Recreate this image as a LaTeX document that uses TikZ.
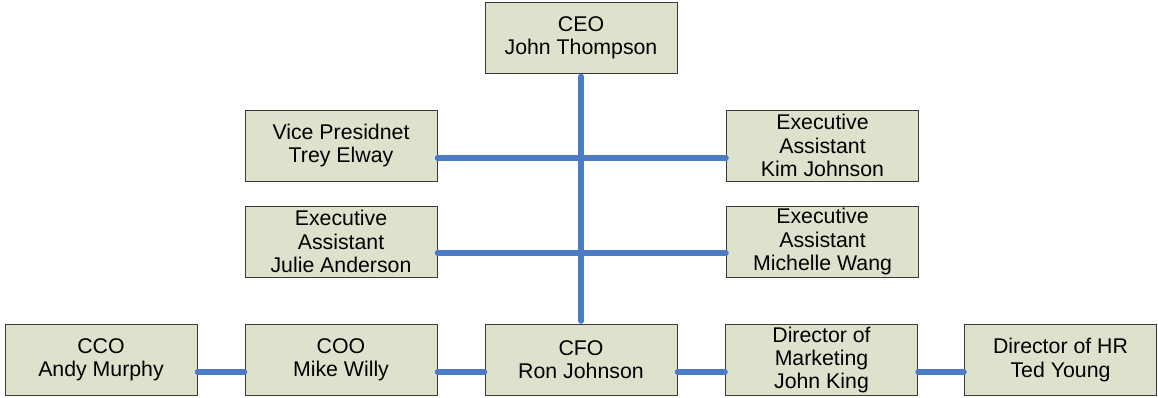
\documentclass[tikz,border=0pt]{standalone}
\usepackage{fontspec}
\setmainfont{Liberation Sans}
\definecolor{boxfill}{HTML}{DDE2CD}
\definecolor{boxline}{HTML}{3A3A3A}
\definecolor{conn}{HTML}{4C7BC6}
\begin{document}
\begin{tikzpicture}[x=1pt,y=-1pt,
  person/.style={draw=boxline, fill=boxfill, line width=1pt, minimum width=192pt, minimum height=71pt, inner sep=0pt, align=center, font=\fontsize{21.3}{23.2}\selectfont},
  link/.style={draw=conn, line width=5.5pt, line cap=round}]
\useasboundingbox (0,0) rectangle (1158,397);
\node[person] (ceo) at (581,37.5) {CEO\\John Thompson};
\node[person] (vp) at (341,145.5) {Vice Presidnet\\Trey Elway};
\node[person] (kim) at (822.5,145.5) {Executive\\Assistant\\Kim Johnson};
\node[person] (julie) at (341,241.5) {Executive\\Assistant\\Julie Anderson};
\node[person] (michelle) at (822.5,241.5) {Executive\\Assistant\\Michelle Wang};
\node[person] (cco) at (101,360) {CCO\\Andy Murphy};
\node[person] (coo) at (341,360) {COO\\Mike Willy};
\node[person] (cfo) at (581,360) {CFO\\Ron Johnson};
\node[person] (mkt) at (821.5,360) {Director of\\Marketing\\John King};
\node[person] (hr) at (1060.5,360) {Director of HR\\Ted Young};
\draw[link, shorten <=3pt, shorten >=3pt] (ceo.south) -- (cfo.north);
\draw[link] ([yshift=-12.5pt]vp.east) -- ([yshift=-12.5pt]kim.west);
\draw[link] ([yshift=-11.5pt]julie.east) -- ([yshift=-11.5pt]michelle.west);
\draw[link] ([yshift=-12pt]cco.east) -- ([yshift=-12pt]coo.west);
\draw[link] ([yshift=-12pt]coo.east) -- ([yshift=-12pt]cfo.west);
\draw[link] ([yshift=-12pt]cfo.east) -- ([yshift=-12pt]mkt.west);
\draw[link] ([yshift=-12pt]mkt.east) -- ([yshift=-12pt]hr.west);
\end{tikzpicture}
\end{document}
